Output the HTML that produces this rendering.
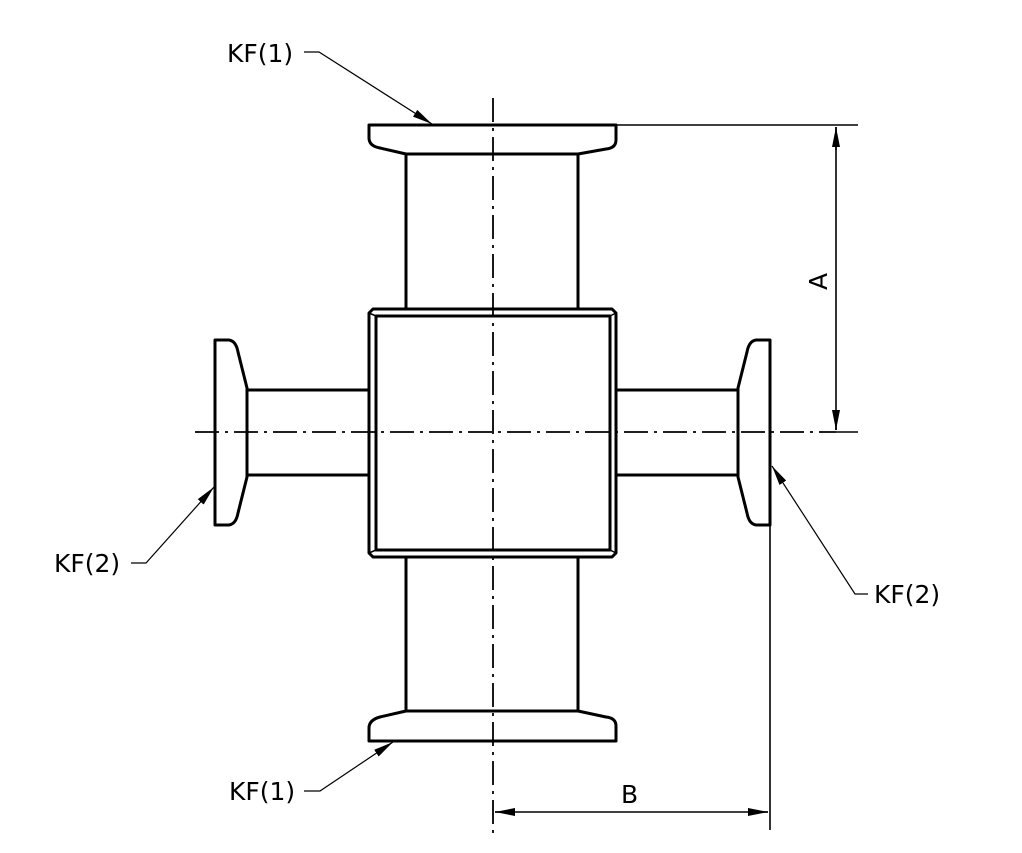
<!DOCTYPE html>
<html><head><style>
html,body{margin:0;padding:0;background:#fff;}
svg{display:block;}
text{font-family:"DejaVu Sans","Liberation Sans",sans-serif;font-size:25px;fill:#000;}
</style></head><body>
<svg width="1022" height="853" viewBox="0 0 1022 853" xmlns="http://www.w3.org/2000/svg">
<defs>
<marker id="ar" viewBox="0 0 20 8" refX="20" refY="4" markerWidth="20" markerHeight="8" markerUnits="userSpaceOnUse" orient="auto">
<path d="M0,0 L20,4 L0,8 Z" fill="#000"/></marker>
</defs>
<g fill="none" stroke="#000" stroke-width="3" stroke-linejoin="round">
<path d="M369,125 L616,125 L616,140 Q616,148 606,149 L578,154 L406,154 L380,148 Q369,146 369,138 Z"/>
<path d="M406,154 L406,309 M578,154 L578,309"/>
<path d="M369,741 L616,741 L616,726 Q616,718 606,717 L578,711 L406,711 L380,717 Q369,720 369,728 Z"/>
<path d="M406,557 L406,711 M578,557 L578,711"/>
<path d="M373,309 L612,309 L616,313 L616,553 L612,557 L373,557 L369,553 L369,313 Z"/>
<path d="M376,316 L610,316 L610,550 L376,550 Z"/>
<path d="M369,313 L376,316 M616,313 L610,316 M369,553 L376,550 M616,553 L610,550" stroke-width="1.5"/>
<path d="M215,340 L229,340 Q236,341 238,352 L247,388 L247,477 L238,513 Q236,524 229,525 L215,525 Z"/>
<path d="M247,390 L369,390 M247,475 L369,475"/>
<path d="M770,340 L756,340 Q749,341 747,352 L738,388 L738,477 L747,513 Q749,524 756,525 L770,525 Z"/>
<path d="M616,390 L738,390 M616,475 L738,475"/>
</g>
<g stroke="#000" stroke-width="1.8" fill="none">
<path d="M493,98 L493,833" stroke-dasharray="24,6,3,6"/>
<path d="M195,432 L836,432" stroke-dasharray="24,6,3,6"/>
</g>
<g stroke="#000" stroke-width="1.6" fill="none">
<path d="M616,125 L858,125"/>
<path d="M836,432 L858,432"/>
<path d="M770,525 L770,830"/>
<path d="M836,127 L836,430"/>
<path d="M495,812 L768,812"/>
<path d="M836,150 L836,127" marker-end="url(#ar)"/>
<path d="M836,410 L836,430" marker-end="url(#ar)"/>
<path d="M515,812 L495,812" marker-end="url(#ar)"/>
<path d="M748,812 L768,812" marker-end="url(#ar)"/>
</g>
<text x="0" y="0" transform="translate(827,290) rotate(-90)">A</text>
<text x="621" y="803">B</text>
<g stroke="#000" stroke-width="1.2" fill="none">
<path d="M304,52 L319,52 L432,124" marker-end="url(#ar)"/>
<path d="M131,563 L146,563 L214,487" marker-end="url(#ar)"/>
<path d="M868,594 L855,594 L772,466" marker-end="url(#ar)"/>
<path d="M304,791 L320,791 L393,742" marker-end="url(#ar)"/>
</g>
<text x="227" y="62">KF(1)</text>
<text x="54" y="572">KF(2)</text>
<text x="874" y="603">KF(2)</text>
<text x="229" y="800">KF(1)</text>
</svg>
</body></html>
